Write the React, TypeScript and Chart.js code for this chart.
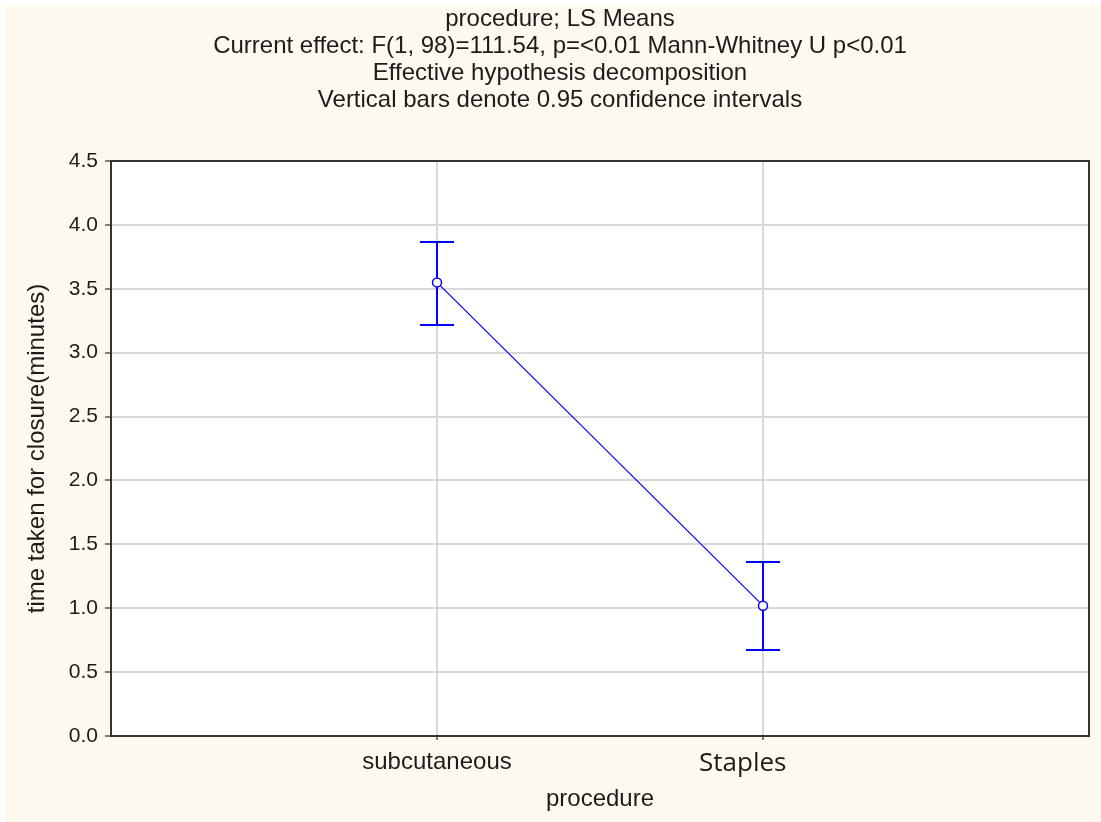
import React, { useEffect, useRef } from 'react';
import { Chart, registerables } from 'chart.js';

Chart.register(...registerables);

const titleLines = [
  'procedure; LS Means',
  'Current effect: F(1, 98)=111.54, p=<0.01 Mann-Whitney U p<0.01',
  'Effective hypothesis decomposition',
  'Vertical bars denote 0.95 confidence intervals',
];
const categories = ['subcutaneous', 'Staples'];
const categoryPositions = [1, 2];
const means = [3.55, 1.02];
const ciLower = [3.22, 0.67];
const ciUpper = [3.87, 1.36];
const yTicks = [0, 0.5, 1, 1.5, 2, 2.5, 3, 3.5, 4, 4.5];
const yAxisTitle = 'time taken for closure(minutes)';
const xAxisTitle = 'procedure';

const FONT = '"Liberation Sans", Arial, sans-serif';
const TEXT = '#1c1c1c';
const BLUE = '#0000ff';

const plotBackgroundPlugin = {
  id: 'plotBackground',
  beforeDraw(chart: any) {
    const { ctx, chartArea } = chart;
    ctx.save();
    ctx.fillStyle = '#ffffff';
    ctx.fillRect(chartArea.left, chartArea.top, chartArea.right - chartArea.left, chartArea.bottom - chartArea.top);
    ctx.restore();
  },
};

const errorBarPlugin = {
  id: 'errorBars',
  beforeDatasetsDraw(chart: any) {
    const { ctx, scales } = chart;
    const x = scales.x;
    const y = scales.y;
    ctx.save();
    ctx.strokeStyle = BLUE;
    ctx.lineWidth = 2;
    categoryPositions.forEach((pos, i) => {
      const px = Math.round(x.getPixelForValue(pos));
      const top = Math.round(y.getPixelForValue(ciUpper[i]));
      const bot = Math.round(y.getPixelForValue(ciLower[i]));
      ctx.beginPath();
      ctx.moveTo(px, top);
      ctx.lineTo(px, bot);
      ctx.moveTo(px - 17, top);
      ctx.lineTo(px + 17, top);
      ctx.moveTo(px - 17, bot);
      ctx.lineTo(px + 17, bot);
      ctx.stroke();
    });
    ctx.restore();
  },
};

const framePlugin = {
  id: 'frame',
  afterDraw(chart: any) {
    const { ctx, chartArea } = chart;
    ctx.save();
    ctx.strokeStyle = '#333333';
    ctx.lineWidth = 2;
    ctx.strokeRect(chartArea.left, chartArea.top, chartArea.right - chartArea.left, chartArea.bottom - chartArea.top);
    ctx.restore();
  },
};

export default function App() {
  const ref = useRef<HTMLCanvasElement | null>(null);

  useEffect(() => {
    if (!ref.current) return;
    const chart = new Chart(ref.current, {
      type: 'line',
      data: {
        datasets: [
          {
            data: categoryPositions.map((p, i) => ({ x: p, y: means[i] })),
            borderColor: BLUE,
            backgroundColor: BLUE,
            segment: { borderColor: BLUE },
            borderWidth: 1.2,
            pointRadius: 4.5,
            pointBorderWidth: 1.5,
            pointBackgroundColor: '#ffffff',
            pointBorderColor: BLUE,
            fill: false,
            tension: 0,
          },
        ],
      },
      options: {
        responsive: false,
        animation: false,
        devicePixelRatio: 1,
        layout: { padding: { left: 26, right: 12, top: 0, bottom: 0 } },
        plugins: {
          legend: { display: false },
          tooltip: { enabled: false },
          title: {
            display: true,
            text: titleLines,
            color: TEXT,
            font: { family: FONT, size: 24, weight: 'normal', lineHeight: '27px' },
            padding: { top: 1, bottom: 47 },
          },
        },
        scales: {
          x: {
            type: 'linear',
            min: 0,
            max: 3,
            afterBuildTicks: (scale: any) => {
              scale.ticks = categoryPositions.map((v) => ({ value: v }));
            },
            afterFit: (scale: any) => {
              scale.height = 86;
            },
            grid: {
              color: '#d9d9d9',
              lineWidth: 2,
              tickLength: 4,
              tickColor: '#000000',
              tickWidth: 1,
            },
            border: { color: '#333333', width: 2 },
            ticks: {
              padding: 8,
              color: TEXT,
              maxRotation: 0,
              autoSkip: false,
              font: (c: any) =>
                c.index === 1
                  ? { family: '"Open Sans", sans-serif', size: 26 }
                  : { family: FONT, size: 24 },
              callback: (_v: any, i: number) => (i === 1 ? categories[i] + '      ' : categories[i]),
            },
            title: {
              display: true,
              text: xAxisTitle,
              color: TEXT,
              font: { family: FONT, size: 24 },
              padding: { top: 0, bottom: 8 },
            },
          },
          y: {
            type: 'linear',
            min: 0,
            max: 4.5,
            afterBuildTicks: (scale: any) => {
              scale.ticks = yTicks.map((v) => ({ value: v }));
            },
            afterFit: (scale: any) => {
              scale.width = 80;
            },
            grid: {
              color: '#d9d9d9',
              lineWidth: 2,
              tickLength: 6,
              tickColor: '#000000',
              tickWidth: 1,
            },
            border: { color: '#333333', width: 2 },
            ticks: {
              padding: 7,
              color: TEXT,
              font: { family: FONT, size: 21 },
              callback: (v: any) => Number(v).toFixed(1),
            },
            title: {
              display: true,
              text: yAxisTitle,
              color: TEXT,
              font: { family: FONT, size: 24, lineHeight: 1 },
              padding: { top: -6, bottom: 0 },
            },
          },
        },
      },
      plugins: [plotBackgroundPlugin, errorBarPlugin, framePlugin],
    } as any);
    return () => chart.destroy();
  }, []);

  return (
    <div
      style={{
        position: 'absolute',
        left: 5,
        top: 5,
        width: 1096,
        height: 817,
        background: '#fef9ee',
      }}
    >
      <canvas ref={ref} width={1096} height={817} style={{ display: 'block' }} />
    </div>
  );
}
